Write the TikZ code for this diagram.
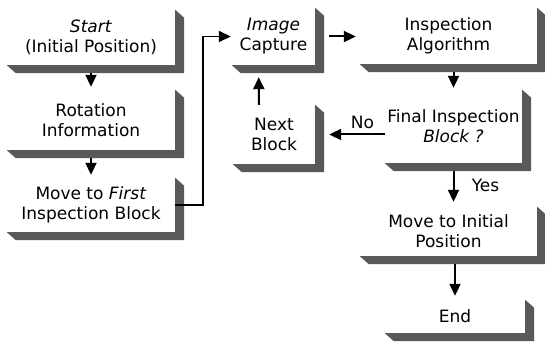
\documentclass[tikz,border=0pt]{standalone}
\usepackage{fontspec}
\setmainfont{DejaVu Sans}
\usepackage{tikz}
\usetikzlibrary{calc}
\usetikzlibrary{arrows.meta}
\usetikzlibrary{positioning}

\tikzset{
  flowbox/.style={fill=white, align=center, inner sep=0pt,
    font=\fontsize{17}{20}\selectfont},
  flow/.style={-{Triangle[length=12pt,width=11pt]}, line width=2pt},
  lbl/.style={font=\fontsize{17}{20}\selectfont}
}
% shaded bevel on the right and bottom of a box
\newcommand{\boxshade}[1]{%
  \fill[black!65] (#1.north east) -- ++(9,8) -- ($(#1.south east)+(9,8)$)
    -- ($(#1.south west)+(9,8)$) -- (#1.south west) -- (#1.south east) -- cycle;}

\begin{document}
\begin{tikzpicture}[x=1pt,y=-1pt]
\useasboundingbox (0,0) rectangle (545,355);

\node[flowbox, minimum width=168pt, minimum height=55pt] (start) at (91,37.5) {\textit{Start}\\(Initial Position)};
\node[flowbox, minimum width=168pt, minimum height=60pt] (rotinfo) at (91,120) {Rotation\\Information};
\node[flowbox, minimum width=168pt, minimum height=54pt] (movefirst) at (91,205) {Move to \textit{First}\\Inspection Block};
\node[flowbox, minimum width=83pt, minimum height=57pt] (capture) at (273.5,36.5) {\textit{Image}\\Capture};
\node[flowbox, minimum width=177pt, minimum height=56pt] (algo) at (448.5,36) {Inspection\\Algorithm};
\node[flowbox, minimum width=82pt, minimum height=59pt] (nextblk) at (274,134.5) {Next\\Block};
\node[flowbox, minimum width=137pt, minimum height=73pt] (final) at (453.5,126.5) {Final Inspection\\\textit{Block ?}};
\node[flowbox, minimum width=177pt, minimum height=49pt] (moveinit) at (448.5,231.5) {Move to Initial\\Position};
\node[flowbox, minimum width=140pt, minimum height=33pt] (stop) at (455,316.5) {End};

\foreach \n in {start,rotinfo,movefirst,capture,algo,nextblk,final,moveinit,stop}
  \boxshade{\n};

\draw[flow, shorten <=8pt, shorten >=3pt] (start.south) -- (rotinfo.north);
\draw[flow, shorten <=8pt, shorten >=3pt] (rotinfo.south) -- (movefirst.north);
\draw[flow, line width=1.6pt, shorten >=1pt] (movefirst.east) -- ++(28,0) |- (capture.west);
\draw[flow, shorten <=14pt, shorten >=4pt] (capture.east) -- (capture.east -| algo.west);
\draw[flow, shorten <=8pt, shorten >=2pt] (algo.south -| final.north) -- (final.north);
\draw[flow, shorten >=14pt] (final.west |- nextblk.east) -- node[lbl, above=1pt, pos=0.32]{No} (nextblk.east);
\draw[flow, shorten >=12pt] ([xshift=-15pt]nextblk.north) -- ([xshift=-15pt]capture.south);
\draw[flow, shorten <=8pt, shorten >=5pt] (final.south) -- node[lbl, right=14pt]{Yes} (final.south |- moveinit.north);
\draw[flow, shorten <=8pt, shorten >=4pt] (stop.north |- moveinit.south) -- (stop.north);
\end{tikzpicture}
\end{document}
